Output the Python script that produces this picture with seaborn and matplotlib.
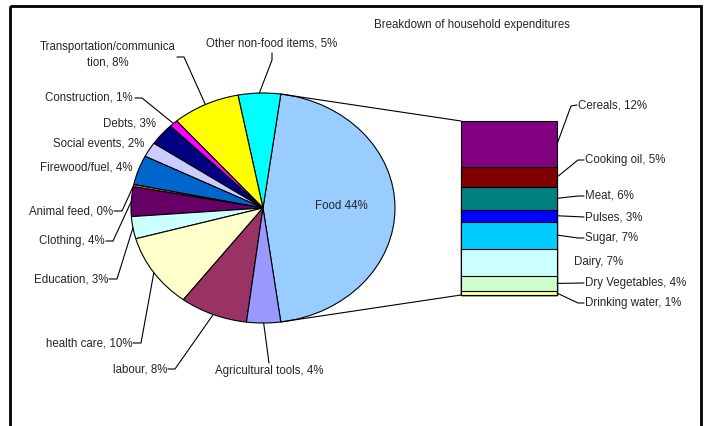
import numpy as np
import pandas as pd
import matplotlib
matplotlib.use("Agg")
import matplotlib.pyplot as plt
from matplotlib.patches import ConnectionPatch, Rectangle
import seaborn as sns

# Household expenditure shares (%), pie order counter-clockwise from "Food"
pie_names = ["Food", "Other non-food items", "Transportation/communica\ntion",
             "Construction", "Debts", "Social events", "Firewood/fuel",
             "Animal feed", "Clothing", "Education", "health care", "labour",
             "Agricultural tools"]
pie_values = [44, 5, 8, 1, 3, 2, 4, 0.3, 4, 3, 10, 8, 4]
pie_colors = ["#99CCFF", "#00FFFF", "#FFFF00", "#FF00FF", "#000080", "#CCCCFF",
              "#0066CC", "#E8704C", "#660066", "#CCFFFF", "#FFFFCC", "#993366",
              "#9999FF"]

# Food expenditure broken down (%), top of the bar first
food_items = ["Cereals", "Cooking oil", "Meat", "Pulses", "Sugar", "Dairy",
              "Dry Vegetables", "Drinking water"]
food_values = [12, 5, 6, 3, 7, 7, 4, 1]
food_colors = ["#800080", "#800000", "#008080", "#0000FF", "#00CCFF", "#CCFFFF",
               "#CCFFCC", "#FFFF99"]

title = "Breakdown of household expenditures"

sns.set_theme(style="white")
plt.rcParams["font.family"] = ["Liberation Sans", "DejaVu Sans"]
FS = 8.3
LW = 0.8

W, H = 710, 426
fig = plt.figure(figsize=(W / 100, H / 100), dpi=100, facecolor="white")


def box(left, top, width, height):
    """Pixel box (top-left origin) -> figure fraction rect."""
    return [left / W, 1 - (top + height) / H, width / W, height / H]


# ---- pie (stretched into an ellipse) ----
CX, CY, RX, RY = 263, 208, 132, 115
M = 1.05
ax_pie = fig.add_axes(box(CX - RX * M, CY - RY * M, 2 * RX * M, 2 * RY * M))
total = sum(pie_values)
food_span = 360 * pie_values[0] / total
wedges, _ = ax_pie.pie(pie_values, colors=pie_colors, startangle=-food_span / 2,
                       counterclock=True,
                       wedgeprops=dict(edgecolor="black", linewidth=LW))
ax_pie.set_aspect("auto")
ax_pie.set_xlim(-M, M)
ax_pie.set_ylim(-M, M)
ax_pie.axis("off")

# ---- stacked bar of food items ----
BAR_L, BAR_R, BAR_TOP, BAR_BOT = 461, 557, 121, 295
bar_total = sum(food_values)
scale = (BAR_BOT - BAR_TOP) / bar_total
XM, YPAD = 0.1, 1.0
ax_bar = fig.add_axes(box(BAR_L - (BAR_R - BAR_L) * XM, BAR_TOP - YPAD * scale,
                          (BAR_R - BAR_L) * (1 + 2 * XM),
                          (BAR_BOT - BAR_TOP) + 2 * YPAD * scale))
df = pd.DataFrame({"item": food_items, "value": food_values})
df["top"] = df["value"][::-1].cumsum()[::-1]
df["mid"] = df["top"] - df["value"] / 2
df["group"] = "Food"
sns.barplot(data=df, x="group", y="top", hue="item", hue_order=food_items,
            palette=dict(zip(food_items, food_colors)), dodge=False,
            saturation=1, width=1, edgecolor="black", linewidth=LW,
            errorbar=None, legend=False, ax=ax_bar)
ax_bar.set_xlim(-0.5 - XM, 0.5 + XM)
ax_bar.set_ylim(-YPAD, bar_total + YPAD)
ax_bar.axis("off")

# connectors from the food slice edges to the bar corners
food_wedge = wedges[0]
for ang, yb in [(food_wedge.theta2, bar_total), (food_wedge.theta1, 0)]:
    t = np.deg2rad(ang)
    con = ConnectionPatch(xyA=(np.cos(t), np.sin(t)), coordsA=ax_pie.transData,
                          xyB=(-0.5, yb), coordsB=ax_bar.transData,
                          color="black", lw=LW)
    fig.add_artist(con)

# ---- overlay in pixel coordinates for labels and leader lines ----
ov = fig.add_axes([0, 0, 1, 1])
ov.set_xlim(0, W)
ov.set_ylim(H, 0)
ov.axis("off")

ov.add_patch(Rectangle((10, 6), 691, 440, fill=False, edgecolor="black",
                       lw=2, clip_on=False))
ov.text(472, 25, title, ha="center", va="center", fontsize=FS)

# food label inside its slice
ax_pie.text(0.59, 0.015, f"Food {pie_values[0]:.0f}%", ha="center", va="center",
            fontsize=FS)

pie_layout = {
    "Other non-food items": (272, 43, "center", [(272, 53), (272, 60)]),
    "Transportation/communica\ntion": (108, 55, "center", [(177, 57), (184, 57)]),
    "Construction": (133, 98, "right", [(135, 98), (142, 98)]),
    "Debts": (156, 123, "right", None),
    "Social events": (144, 143, "right", None),
    "Firewood/fuel": (132, 168, "right", None),
    "Animal feed": (113, 211, "right", [(114, 211), (122, 211)]),
    "Clothing": (105, 241, "right", [(106, 241), (113, 241)]),
    "Education": (108, 279, "right", [(109, 279), (117, 279)]),
    "health care": (132, 343, "right", [(133, 343), (141, 343)]),
    "labour": (167, 369, "right", [(168, 369), (175, 369)]),
    "Agricultural tools": (269, 371, "center", [(269, 363)]),
}

for name, val, w in zip(pie_names[1:], pie_values[1:], wedges[1:]):
    x, y, ha, path = pie_layout[name]
    ov.text(x, y, f"{name}, {val:.0f}%", ha=ha, va="center", fontsize=FS,
            linespacing=1.35, multialignment="center")
    if path:
        t = np.deg2rad((w.theta1 + w.theta2) / 2)
        anchor = (CX + RX * np.cos(t), CY - RY * np.sin(t))
        pts = np.array(path + [anchor])
        ov.plot(pts[:, 0], pts[:, 1], color="black", lw=LW)

bar_layout = {
    "Cereals": (578, 105, [(577, 105), (571, 106)]),
    "Cooking oil": (585, 160, [(584, 160), (578, 160)]),
    "Meat": (585, 196, [(584, 196), (578, 196)]),
    "Pulses": (585, 217, [(584, 217)]),
    "Sugar": (585, 238, [(584, 238), (578, 238)]),
    "Dairy": (574, 262, None),
    "Dry Vegetables": (585, 283, [(584, 283)]),
    "Drinking water": (585, 303, [(584, 303), (578, 303)]),
}

for item, val, mid in zip(df["item"], df["value"], df["mid"]):
    x, y, path = bar_layout[item]
    ov.text(x, y, f"{item}, {val:.0f}%", ha="left", va="center", fontsize=FS)
    if path:
        anchor = (BAR_R, BAR_BOT - mid * scale)
        pts = np.array(path + [anchor])
        ov.plot(pts[:, 0], pts[:, 1], color="black", lw=LW)

fig.savefig("out.png", dpi=100, facecolor="white")
